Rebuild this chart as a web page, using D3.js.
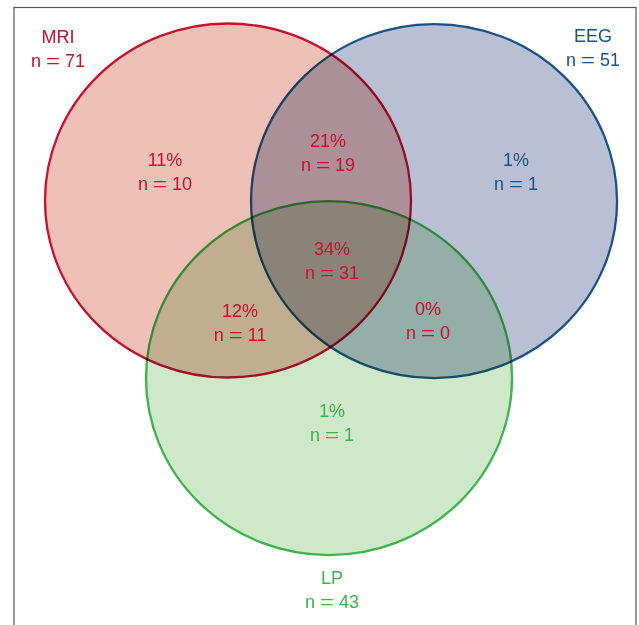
<!DOCTYPE html>
<html>
<head>
<meta charset="utf-8">
<script src="https://cdn.jsdelivr.net/npm/d3@7/dist/d3.min.js"></script>
<style>
  html, body { margin: 0; padding: 0; background: #fff; }
  svg { display: block; }
</style>
</head>
<body>
<div id="chart"></div>
<script>
// sets (counts are derived from the region table)
var setNames = ["MRI", "EEG", "LP"];
var setColors = ["#c8102e", "#1a5285", "#3bb54a"];
var setFills = ["#eec0b6", "#b9c0d4", "#cfe8ca"];

// regions: which sets, patient count
var regionSets = [["MRI"], ["MRI", "EEG"], ["EEG"], ["MRI", "LP"], ["MRI", "EEG", "LP"], ["EEG", "LP"], ["LP"]];
var regionCounts = [10, 19, 1, 11, 31, 0, 1];
var totalPatients = 91;

// layout, in units of circle radius
var circleX = [0, 1.126, 0.552];
var circleY = [0, 0.003, 1.003];
var labelX = [-0.929, 1.995, 0.568];
var labelY = [-0.89, -0.895, 2.167];
var regionX = [-0.344, 0.546, 1.574, 0.066, 0.568, 1.093, 0.568];
var regionY = [-0.195, -0.302, -0.195, 0.658, 0.308, 0.647, 1.223];

var width = 639, height = 625;

var svg = d3.select("#chart").append("svg")
  .attr("width", width)
  .attr("height", height);

svg.append("rect")
  .attr("width", width)
  .attr("height", height)
  .style("fill", "#fff");

// frame
svg.append("rect")
  .attr("x", 14)
  .attr("y", 7.5)
  .attr("width", 622)
  .attr("height", 640)
  .style("fill", "none")
  .style("stroke", "#555")
  .style("stroke-width", 1.2);

var x = d3.scaleLinear().domain([0, 1]).range([228, 411]);
var y = d3.scaleLinear().domain([0, 1]).range([200.5, 377.5]);

var setTotals = setNames.map(function(s) {
  return d3.sum(regionSets, function(r, i) { return r.indexOf(s) >= 0 ? regionCounts[i] : 0; });
});

var g = svg.append("g").style("isolation", "isolate");

g.selectAll("ellipse")
  .data(setNames)
.enter().append("ellipse")
  .attr("cx", function(d, i) { return x(circleX[i]); })
  .attr("cy", function(d, i) { return y(circleY[i]); })
  .attr("rx", x(1) - x(0))
  .attr("ry", y(1) - y(0))
  .style("fill", function(d, i) { return setFills[i]; })
  .style("stroke", function(d, i) { return setColors[i]; })
  .style("stroke-width", 2.3)
  .style("mix-blend-mode", "multiply");

var font = "'Liberation Sans', Arial, Helvetica, sans-serif";

// "n = k" with a wide equals sign
function countLine(sel, xPos, value) {
  sel.append("tspan")
    .attr("x", xPos)
    .attr("dy", 24)
    .text("n ");
  sel.append("tspan")
    .attr("textLength", 14)
    .attr("lengthAdjust", "spacingAndGlyphs")
    .text("=");
  sel.append("tspan").text(" " + value);
}

// set labels
var lab = svg.selectAll("text.set")
  .data(setNames)
.enter().append("text")
  .attr("class", "set")
  .attr("x", function(d, i) { return x(labelX[i]); })
  .attr("y", function(d, i) { return y(labelY[i]); })
  .style("text-anchor", "middle")
  .style("font-family", font)
  .style("font-size", "18px")
  .style("white-space", "pre")
  .style("fill", function(d, i) { return setColors[i]; });

lab.append("tspan").text(function(d) { return d; });
lab.each(function(d, i) {
  countLine(d3.select(this), x(labelX[i]), setTotals[i]);
});

// region labels
var reg = svg.selectAll("text.region")
  .data(regionSets)
.enter().append("text")
  .attr("class", "region")
  .attr("x", function(d, i) { return x(regionX[i]); })
  .attr("y", function(d, i) { return y(regionY[i]); })
  .style("text-anchor", "middle")
  .style("font-family", font)
  .style("font-size", "18px")
  .style("white-space", "pre")
  .style("fill", function(d) {
    return d.length === 1 ? setColors[setNames.indexOf(d[0])] : setColors[0];
  });

reg.append("tspan")
  .text(function(d, i) { return Math.round(regionCounts[i] / totalPatients * 100) + "%"; });
reg.each(function(d, i) {
  countLine(d3.select(this), x(regionX[i]), regionCounts[i]);
});
</script>
</body>
</html>
